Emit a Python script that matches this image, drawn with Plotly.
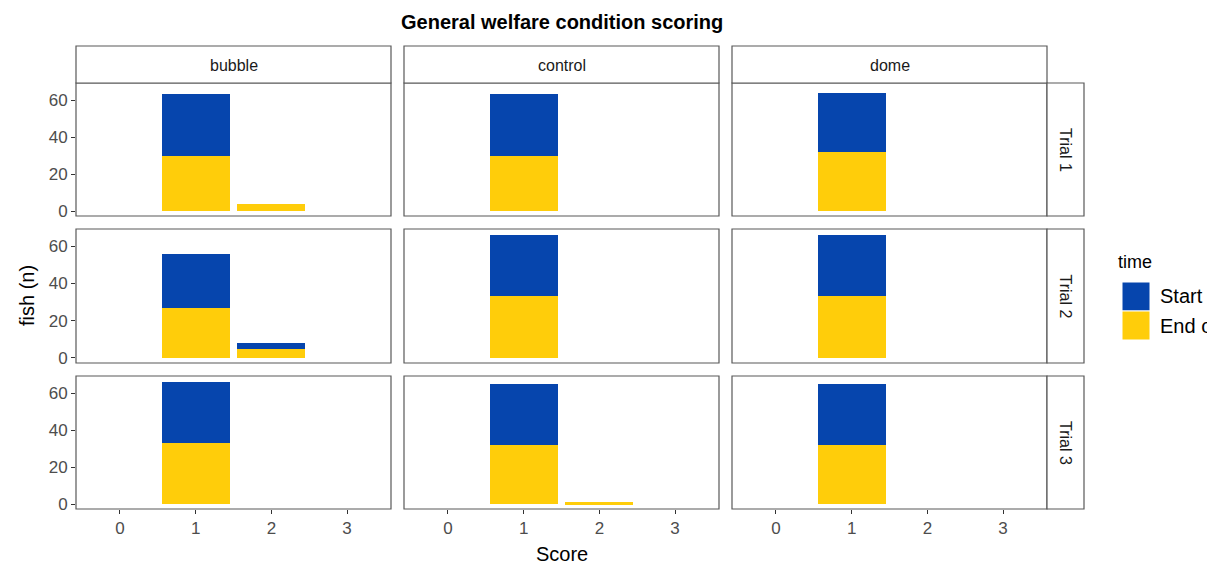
import plotly.graph_objects as go

# Fish counts per welfare score, by treatment (columns) and trial (rows)
treatments = ["bubble", "control", "dome"]
trials = ["Trial 1", "Trial 2", "Trial 3"]
scores = [0, 1, 2, 3]
time_levels = ["Start of trial", "End of trial"]

start_counts = {
    ("Trial 1", "bubble"): [0, 33, 0, 0],
    ("Trial 1", "control"): [0, 33, 0, 0],
    ("Trial 1", "dome"): [0, 32, 0, 0],
    ("Trial 2", "bubble"): [0, 29, 3, 0],
    ("Trial 2", "control"): [0, 33, 0, 0],
    ("Trial 2", "dome"): [0, 33, 0, 0],
    ("Trial 3", "bubble"): [0, 33, 0, 0],
    ("Trial 3", "control"): [0, 33, 0, 0],
    ("Trial 3", "dome"): [0, 33, 0, 0],
}
end_counts = {
    ("Trial 1", "bubble"): [0, 30, 4, 0],
    ("Trial 1", "control"): [0, 30, 0, 0],
    ("Trial 1", "dome"): [0, 32, 0, 0],
    ("Trial 2", "bubble"): [0, 27, 5, 0],
    ("Trial 2", "control"): [0, 33, 0, 0],
    ("Trial 2", "dome"): [0, 33, 0, 0],
    ("Trial 3", "bubble"): [0, 33, 0, 0],
    ("Trial 3", "control"): [0, 32, 1, 0],
    ("Trial 3", "dome"): [0, 32, 0, 0],
}
y_ticks = [0, 20, 40, 60]

COL_START = "#0645AD"
COL_END = "#FFCD0A"
BORDER = "#595959"
FONT = "Liberation Sans, Arial, sans-serif"

W, H = 1216, 566
col_px = [(76, 391), (404, 719), (732, 1047)]
row_px = [(83, 216), (229, 363), (376, 509)]
strip_top = (46, 83)
strip_right = (1047, 1084)


def px(x):
    return x / W


def py(y):
    return 1 - y / H


def label(text, x, y, size, color="black", xanchor="center", angle=0, **extra):
    return dict(text=text, xref="paper", yref="paper", x=px(x), y=py(y),
                xanchor=xanchor, yanchor="middle", textangle=angle, showarrow=False,
                font=dict(size=size, color=color, family=FONT), **extra)


fig = go.Figure()
layout = {}
shapes = []
annotations = []

n = 0
for r, trial in enumerate(trials):
    for c, trt in enumerate(treatments):
        n += 1
        xa = "x" if n == 1 else f"x{n}"
        ya = "y" if n == 1 else f"y{n}"
        xkey = "xaxis" if n == 1 else f"xaxis{n}"
        ykey = "yaxis" if n == 1 else f"yaxis{n}"
        fig.add_trace(go.Bar(
            x=scores, y=end_counts[(trial, trt)], width=0.9,
            marker=dict(color=COL_END, line=dict(width=0)),
            name=time_levels[1], showlegend=False, xaxis=xa, yaxis=ya,
        ))
        fig.add_trace(go.Bar(
            x=scores, y=start_counts[(trial, trt)], width=0.9,
            marker=dict(color=COL_START, line=dict(width=0)),
            name=time_levels[0], showlegend=False, xaxis=xa, yaxis=ya,
        ))
        x0, x1 = col_px[c]
        y0, y1 = row_px[r]
        bottom = r == len(trials) - 1
        left = c == 0
        layout[xkey] = dict(
            domain=[px(x0), px(x1)], anchor=ya, range=[-0.58, 3.58],
            tickvals=scores, ticktext=[str(s) for s in scores],
            showticklabels=bottom, ticks="outside" if bottom else "",
            ticklen=4, tickwidth=1.2, tickcolor="#333333",
            tickfont=dict(size=17, color="#4D4D4D", family=FONT),
            showgrid=False, zeroline=False, showline=False, fixedrange=True,
            automargin=False,
        )
        layout[ykey] = dict(
            domain=[py(y1), py(y0)], anchor=xa, range=[-2.7, 69.2],
            tickvals=y_ticks, showticklabels=left,
            ticks="outside" if left else "",
            ticklen=4, tickwidth=1.2, tickcolor="#333333",
            tickfont=dict(size=17, color="#4D4D4D", family=FONT),
            showgrid=False, zeroline=False, showline=False, fixedrange=True,
            automargin=False,
        )
        # panel border
        shapes.append(dict(type="rect", xref="paper", yref="paper",
                           x0=px(x0), x1=px(x1), y0=py(y1), y1=py(y0),
                           line=dict(color=BORDER, width=1.2), layer="above"))

# column strips
for c, trt in enumerate(treatments):
    x0, x1 = col_px[c]
    shapes.append(dict(type="rect", xref="paper", yref="paper",
                       x0=px(x0), x1=px(x1), y0=py(strip_top[1]), y1=py(strip_top[0]),
                       line=dict(color=BORDER, width=1.2), fillcolor="white"))
    annotations.append(label(trt, (x0 + x1) / 2, (strip_top[0] + strip_top[1]) / 2 + 1,
                             16, "#1A1A1A"))

# row strips
for r, trial in enumerate(trials):
    y0, y1 = row_px[r]
    shapes.append(dict(type="rect", xref="paper", yref="paper",
                       x0=px(strip_right[0]), x1=px(strip_right[1]), y0=py(y1), y1=py(y0),
                       line=dict(color=BORDER, width=1.2), fillcolor="white"))
    annotations.append(label(trial, (strip_right[0] + strip_right[1]) / 2, (y0 + y1) / 2,
                             16, "#1A1A1A", angle=90))

# axis titles and chart title
annotations.append(label("Score", 561.5, 554, 20))
annotations.append(label("fish (n)", 27, 296, 20, angle=-90))
annotations.append(label("<b>General welfare condition scoring</b>", 561.5, 22, 20))

# legend for time; label boxes are narrow, so the longer text is cut at their edge
annotations.append(label("time", 1116, 262, 18, xanchor="left"))
legend_y = [(282, 311), (311, 340)]
label_left, label_right = 1159, 1206
for (ly0, ly1), col, lab in zip(legend_y, [COL_START, COL_END], time_levels):
    shapes.append(dict(type="rect", xref="paper", yref="paper",
                       x0=px(1122), x1=px(1150), y0=py(ly1), y1=py(ly0),
                       line=dict(color="white", width=1), fillcolor=col))
    annotations.append(label(lab, label_left, (ly0 + ly1) / 2, 20, xanchor="left",
                             width=label_right - label_left, align="left", borderpad=0))

fig.update_layout(
    **layout,
    template="none",
    barmode="stack",
    bargap=0,
    width=W, height=H,
    margin=dict(l=0, r=0, t=0, b=0, pad=0, autoexpand=False),
    paper_bgcolor="white", plot_bgcolor="white",
    shapes=shapes, annotations=annotations,
    showlegend=False,
    font=dict(family=FONT),
)

fig.write_html("out.html")
